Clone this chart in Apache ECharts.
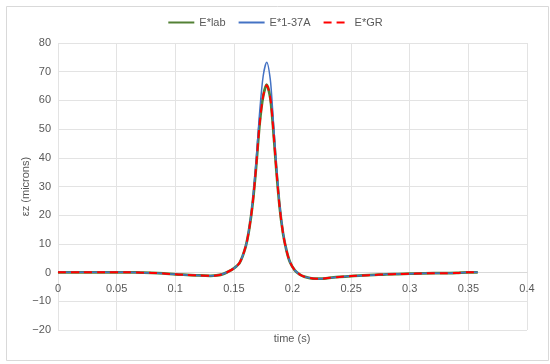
<!DOCTYPE html>
<html>
<head>
<meta charset="utf-8">
<script src="https://cdn.jsdelivr.net/npm/echarts@6/dist/echarts.min.js"></script>
<style>
html,body{margin:0;padding:0;background:#fff;}
#c{width:550px;height:364px;}
</style>
</head>
<body>
<div id="c"></div>
<script>
// time (s)
const time = [0, 0.02, 0.04, 0.06, 0.07, 0.08, 0.09, 0.10, 0.11, 0.12, 0.13, 0.135, 0.14, 0.145, 0.15, 0.155, 0.16, 0.163, 0.166, 0.169, 0.172, 0.175, 0.178, 0.181, 0.183, 0.186, 0.189, 0.192, 0.195, 0.198, 0.202, 0.206, 0.21, 0.215, 0.22, 0.225, 0.23, 0.24, 0.25, 0.26, 0.27, 0.28, 0.29, 0.30, 0.31, 0.32, 0.33, 0.34, 0.35, 0.358];
// εz (microns)
const eLab = [0.1, 0.1, 0.1, 0.1, 0.0, -0.1, -0.3, -0.6, -0.8, -1.0, -1.1, -1.0, -0.6, 0.3, 1.5, 3.5, 9, 15, 24, 37, 52, 61.5, 65.5, 61, 53, 37, 23, 13.5, 7.5, 3.5, 0.8, -0.6, -1.4, -1.9, -2.1, -2.1, -1.9, -1.5, -1.2, -1.0, -0.8, -0.6, -0.5, -0.4, -0.3, -0.2, -0.2, -0.1, 0.1, 0.1];
const e137A = [0.1, 0.1, 0.1, 0.1, 0.0, -0.1, -0.3, -0.6, -0.8, -1.0, -1.1, -1.0, -0.6, 0.3, 1.5, 3.5, 9, 15.5, 25, 39, 56, 68.5, 73.3, 67.5, 57, 39, 24, 14, 7.5, 3.5, 0.8, -0.6, -1.4, -1.9, -2.1, -2.1, -1.9, -1.5, -1.2, -1.0, -0.8, -0.6, -0.5, -0.4, -0.3, -0.2, -0.2, -0.1, 0.1, 0.1];
const eGR = [0.1, 0.1, 0.1, 0.1, 0.0, -0.1, -0.3, -0.6, -0.8, -1.0, -1.1, -1.0, -0.6, 0.3, 1.5, 3.5, 9, 15, 24, 37, 52, 61.5, 65.3, 61, 53, 37, 23, 13.5, 7.5, 3.5, 0.8, -0.6, -1.4, -1.9, -2.1, -2.1, -1.9, -1.5, -1.2, -1.0, -0.8, -0.6, -0.5, -0.4, -0.3, -0.2, -0.2, -0.1, 0.1, 0.1];
const seriesNames = ['E*lab', 'E*1-37A', 'E*GR'];
const xTicks = {min: 0, max: 0.4, step: 0.05};
const yTicks = {min: -20, max: 80, step: 10};
const xTitle = 'time (s)';
const yTitle = 'εz (microns)';

const pair = ys => time.map((t, i) => [t, ys[i]]);
const font = 'Liberation Sans, Arial, sans-serif';
const txt = '#595959';
const chart = echarts.init(document.getElementById('c'), null, {renderer: 'canvas'});
chart.setOption({
  animation: false,
  backgroundColor: '#fff',
  textStyle: {fontFamily: font},
  graphic: [{
    type: 'rect', left: 4, top: 4, silent: true, z: -10,
    shape: {width: 542, height: 354},
    style: {fill: 'none', stroke: '#d9d9d9', lineWidth: 1}
  }, {
    type: 'text', x: 292, y: 339, silent: true,
    style: {text: xTitle, align: 'center', verticalAlign: 'middle', fill: txt, font: '11px ' + font}
  }],
  legend: {
    top: 12, left: 'center', itemWidth: 26, itemHeight: 10, itemGap: 12,
    textStyle: {fontSize: 11, color: txt, fontFamily: font},
    itemStyle: {opacity: 0},
    data: seriesNames
  },
  grid: {left: 58, right: 23, top: 43, bottom: 34, containLabel: false},
  xAxis: {
    type: 'value', min: xTicks.min, max: xTicks.max, interval: xTicks.step,
    axisLine: {show: true, onZero: true, lineStyle: {color: '#d9d9d9', width: 1}},
    axisTick: {show: false},
    axisLabel: {color: txt, fontSize: 11, margin: -47, formatter: v => String(+v.toFixed(2))},
    splitLine: {show: true, lineStyle: {color: '#e3e3e3', width: 1}}
  },
  yAxis: {
    type: 'value', min: yTicks.min, max: yTicks.max, interval: yTicks.step,
    name: yTitle, nameLocation: 'middle', nameGap: 27, nameRotate: 90, nameMoveOverlap: false,
    nameTextStyle: {color: txt, fontSize: 11, fontFamily: font},
    axisLine: {show: false}, axisTick: {show: false},
    axisLabel: {color: txt, fontSize: 11, margin: 7, formatter: v => v < 0 ? '\u2212' + (-v) : String(v)},
    splitLine: {show: true, lineStyle: {color: '#e3e3e3', width: 1}}
  },
  series: [
    {name: seriesNames[0], type: 'line', data: pair(eLab), smooth: 0.3, showSymbol: false, symbol: 'none',
     lineStyle: {color: '#538135', width: 2.75}, itemStyle: {color: '#538135'}, z: 2},
    {name: seriesNames[1], type: 'line', data: pair(e137A), smooth: 0.3, showSymbol: false, symbol: 'none',
     lineStyle: {color: '#4472C4', width: 1.5}, itemStyle: {color: '#4472C4'}, z: 3},
    {name: seriesNames[2], type: 'line', data: pair(eGR), smooth: 0.3, showSymbol: false, symbol: 'none',
     lineStyle: {color: '#FF0000', width: 2, type: [8, 5]}, itemStyle: {color: '#FF0000'}, z: 4}
  ]
});
</script>
</body>
</html>
